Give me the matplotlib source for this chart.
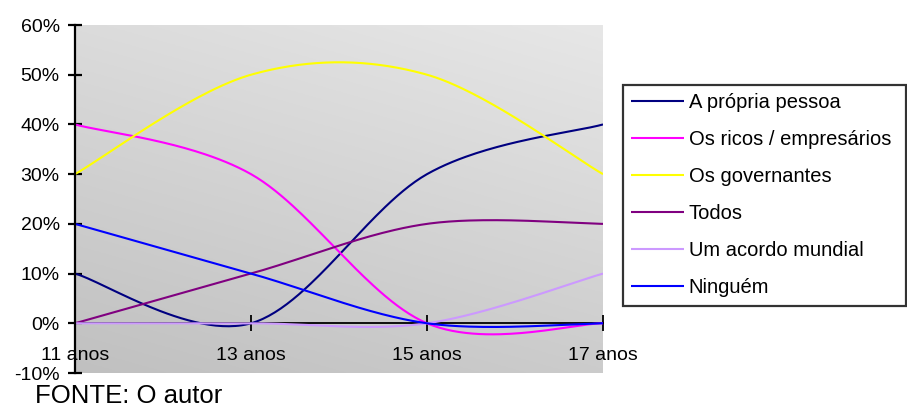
import numpy as np
import matplotlib
matplotlib.use("Agg")
import matplotlib.pyplot as plt
from matplotlib.ticker import FuncFormatter

plt.rcParams['font.family'] = ['Liberation Sans', 'DejaVu Sans']

categorias = ["11 anos", "13 anos", "15 anos", "17 anos"]
propria_pessoa = [10, 0, 30, 40]
ricos = [40, 30, 0, 0]
governantes = [30, 50, 50, 30]
todos = [0, 10, 20, 20]
acordo = [0, 0, 0, 10]
ninguem = [20, 10, 0, 0]

series = [
    ("A própria pessoa", propria_pessoa, "#000080"),
    ("Os ricos / empresários", ricos, "#FF00FF"),
    ("Os governantes", governantes, "#FFFF00"),
    ("Todos", todos, "#800080"),
    ("Um acordo mundial", acordo, "#CC99FF"),
    ("Ninguém", ninguem, "#0000FF"),
]


def suavizar(xs, ys, n=60):
    # curva tipo Excel (Bezier com pontos de controle Catmull-Rom)
    xs = np.asarray(xs, float)
    ys = np.asarray(ys, float)
    px, py = [], []
    k = len(xs)
    t = np.linspace(0, 1, n)
    for i in range(k - 1):
        i0 = max(i - 1, 0)
        i3 = min(i + 2, k - 1)
        seg = []
        for arr in (xs, ys):
            p0, p1, p2, p3 = arr[i0], arr[i], arr[i + 1], arr[i3]
            c1 = p1 + (p2 - p0) / 6
            c2 = p2 - (p3 - p1) / 6
            seg.append((1 - t) ** 3 * p1 + 3 * (1 - t) ** 2 * t * c1
                       + 3 * (1 - t) * t ** 2 * c2 + t ** 3 * p2)
        px.extend(seg[0])
        py.extend(seg[1])
    return np.array(px), np.array(py)


fig = plt.figure(figsize=(9.07, 4.07), dpi=100)
ax = fig.add_axes([75 / 907, 1 - 373 / 407, 528 / 907, 348 / 407])

# fundo em degrade (claro em cima a direita, escuro embaixo a esquerda)
gx, gy = np.meshgrid(np.linspace(0, 1, 200), np.linspace(0, 1, 200))
v = (0xc0 + (0xe7 - 0xc0) * (0.3 * gx + 0.7 * gy)) / 255.0
grad = np.dstack([v, v, v])
ax.imshow(grad, extent=[0, 1, 0, 1], transform=ax.transAxes, origin='lower',
          aspect='auto', zorder=0)

x = np.arange(len(categorias))
for nome, vals, cor in series:
    sx, sy = suavizar(x, vals)
    ax.plot(sx, sy, color=cor, lw=1.5, label=nome, zorder=3,
            solid_capstyle='butt')

ax.set_xlim(0, len(categorias) - 1)
ax.set_ylim(-10, 60)
ax.set_yticks(np.arange(-10, 61, 10))
ax.yaxis.set_major_formatter(FuncFormatter(lambda v, p: f"{v:.0f}%"))
ax.set_xticks(x)
ax.set_xticklabels(categorias)

for s in ("top", "right"):
    ax.spines[s].set_visible(False)
ax.spines["left"].set_linewidth(1.6)
ax.spines["bottom"].set_position(("data", 0))
ax.spines["bottom"].set_linewidth(1.3)
ax.spines["bottom"].set_zorder(2)
ax.spines["left"].set_zorder(4)

ax.tick_params(axis='y', direction='inout', length=10, width=1.6,
               labelsize=14, pad=6)
ax.tick_params(axis='x', direction='inout', length=12, width=1.3,
               labelsize=14, pad=11)

leg = fig.legend(loc='upper left',
                 bbox_to_anchor=(623 / 907, 1 - 310 / 407, 283 / 907, 225 / 407),
                 mode='expand', frameon=True, fancybox=False,
                 edgecolor='black', fontsize=14.5, handlelength=2.6,
                 handletextpad=0.25, labelspacing=0.89, borderpad=0.42,
                 borderaxespad=0)
leg.get_frame().set_linewidth(1.6)

fig.text(35 / 907, 1 - 396 / 407, "FONTE: O autor", fontsize=18.5,
         va='center', ha='left')

fig.savefig("out.png", dpi=100)
